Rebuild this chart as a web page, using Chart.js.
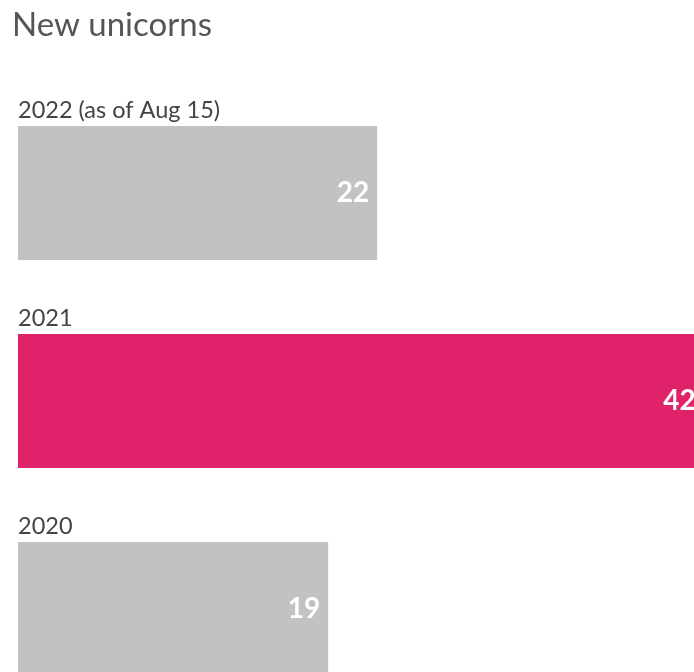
<!DOCTYPE html>
<html>
<head>
<meta charset="utf-8">
<script src="https://cdn.jsdelivr.net/npm/chart.js@4"></script>
<style>
  html, body { margin: 0; padding: 0; background: #fff; overflow: hidden; }
  #wrap { width: 694px; height: 672px; overflow: hidden; position: relative; }
  canvas { display: block; }
</style>
</head>
<body>
<div id="wrap"><canvas id="chart" width="720" height="720"></canvas></div>
<script>
const categorias = ['2022 (as of Aug 15)', '2021', '2020'];
const valores = [22, 42, 19];
const cores = ['#c4c2c1', '#e0226a', '#c4c2c1'];
const titulo = 'New unicorns';

const FONTE = 'Lato, "Open Sans", sans-serif';

// textos: titulo, rotulo acima de cada barra e valor dentro da ponta
const textos = {
  id: 'textos',
  afterDatasetsDraw(chart) {
    const ctx = chart.ctx;
    ctx.save();
    ctx.fillStyle = '#555555';
    ctx.font = '33px ' + FONTE;
    ctx.textAlign = 'left';
    ctx.textBaseline = 'alphabetic';
    ctx.fillText(titulo, 12, 36);

    const meta = chart.getDatasetMeta(0);
    meta.data.forEach((bar, i) => {
      const topo = bar.y - bar.height / 2;
      ctx.fillStyle = '#444444';
      ctx.font = '23.5px ' + FONTE;
      ctx.textAlign = 'left';
      ctx.textBaseline = 'alphabetic';
      ctx.fillText(categorias[i], chart.chartArea.left, topo - 8);

      ctx.fillStyle = '#ffffff';
      ctx.font = 'bold 28px ' + FONTE;
      ctx.textAlign = 'right';
      ctx.textBaseline = 'middle';
      ctx.fillText(String(valores[i]), bar.x - 8, bar.y);
    });
    ctx.restore();
  }
};

new Chart(document.getElementById('chart'), {
  type: 'bar',
  data: {
    labels: categorias,
    datasets: [{ data: valores, backgroundColor: cores, borderWidth: 0, barPercentage: 1, categoryPercentage: 0.644 }]
  },
  options: {
    indexAxis: 'y',
    responsive: false,
    animation: false,
    layout: { padding: { left: 18, right: 0, top: 89, bottom: 7 } },
    plugins: { legend: { display: false }, tooltip: { enabled: false } },
    scales: {
      x: { display: false, min: 0, max: 43 },
      y: { display: false }
    }
  },
  plugins: [textos]
});
</script>
</body>
</html>
